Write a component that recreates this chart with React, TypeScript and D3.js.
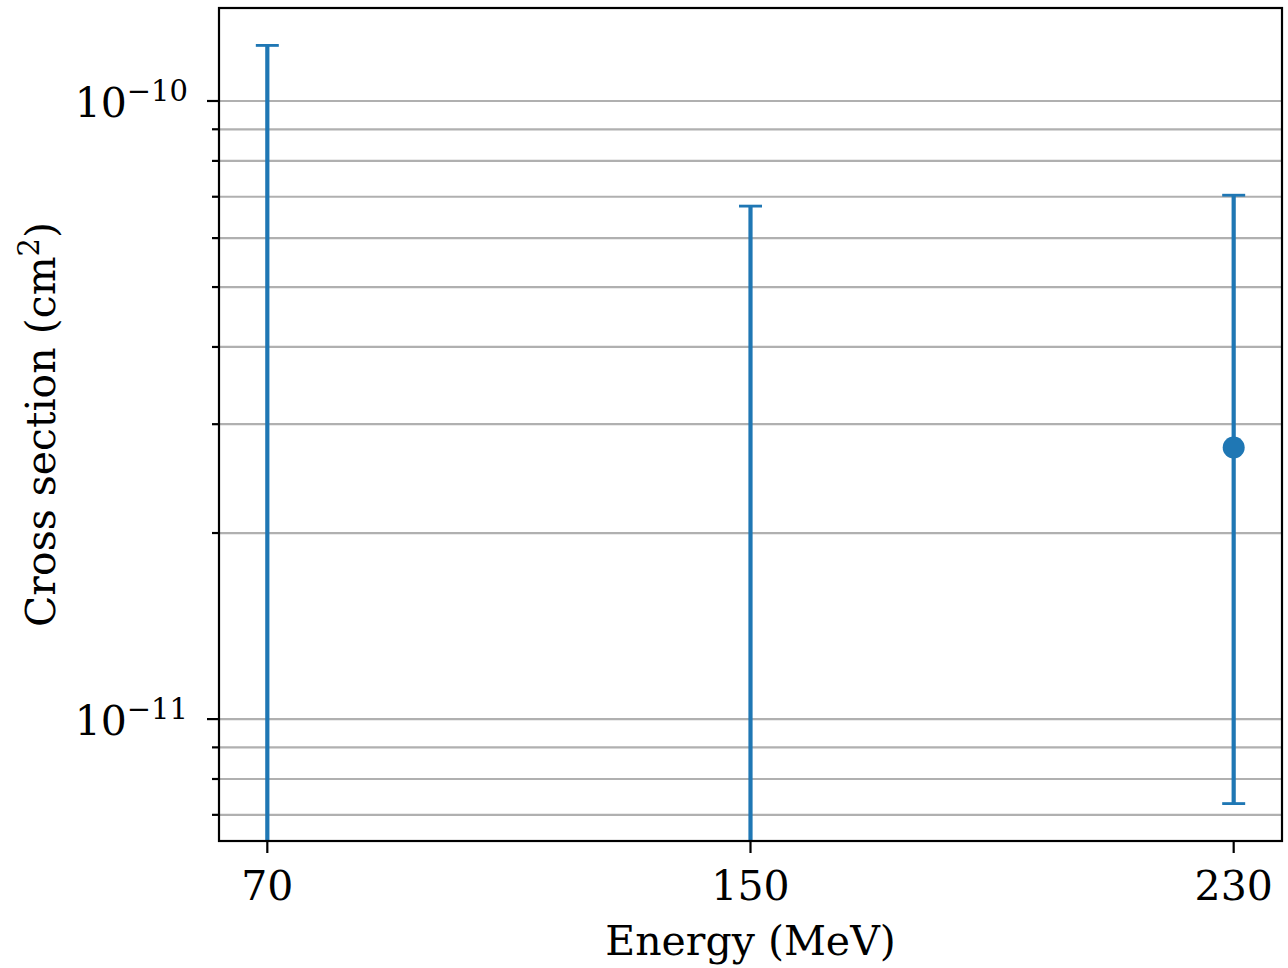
import React from "react";
import { scaleLinear, scaleLog } from "d3";

// measured cross sections, cm^2 (null = central value not on the log axis)
const energies = [70, 150, 230];
const centers: (number | null)[] = [null, null, 2.75e-11];
const upperBounds = [1.23e-10, 6.76e-11, 7.04e-11];
const lowerBounds = [0, 0, 7.3e-12]; // 0 -> bar runs off the bottom of the axis

const xTicks = [70, 150, 230];
const yMajor = [1e-10, 1e-11];
const yMajorLabels = ["−10", "−11"];
const yMinor = [
  9e-11, 8e-11, 7e-11, 6e-11, 5e-11, 4e-11, 3e-11, 2e-11, 9e-12, 8e-12, 7e-12,
];

const width = 1288,
  height = 968;
const margin = { left: 219, right: 6, top: 8, bottom: 127 };
const font = "DejaVu Serif";
const blue = "#1f77b4";

function App() {
  const x = scaleLinear()
    .domain([62, 238])
    .range([margin.left, width - margin.right]);
  const y = scaleLog()
    .domain([6.35e-12, 1.414e-10])
    .range([height - margin.bottom, margin.top]);
  const [x0, x1] = x.range();
  const [yb, yt] = y.range();

  return (
    <svg
      width={width}
      height={height}
      style={{ position: "absolute", left: 0, top: 0, background: "#fff" }}
      fontFamily={font}
    >
      <defs>
        <clipPath id="plot">
          <rect x={x0} y={yt} width={x1 - x0} height={yb - yt} />
        </clipPath>
      </defs>

      {/* grid, major + minor */}
      <g stroke="#b0b0b0" strokeWidth={2.2}>
        {[...yMajor, ...yMinor].map((v) => (
          <line key={v} x1={x0} x2={x1} y1={y(v)} y2={y(v)} />
        ))}
      </g>

      {/* error bars */}
      <g clipPath="url(#plot)" stroke={blue}>
        {energies.map((e, i) => {
          const cx = x(e);
          const top = y(upperBounds[i]);
          const bot = lowerBounds[i] > 0 ? y(lowerBounds[i]) : yb + 10;
          return (
            <g key={e}>
              <line x1={cx} x2={cx} y1={top} y2={bot} strokeWidth={4.2} />
              <line x1={cx - 11.5} x2={cx + 11.5} y1={top} y2={top} strokeWidth={2.8} />
              {lowerBounds[i] > 0 && (
                <line x1={cx - 11.5} x2={cx + 11.5} y1={bot} y2={bot} strokeWidth={2.8} />
              )}
              {centers[i] !== null && (
                <circle cx={cx} cy={y(centers[i] as number)} r={11} fill={blue} stroke="none" />
              )}
            </g>
          );
        })}
      </g>

      {/* frame */}
      <rect
        x={x0}
        y={yt}
        width={x1 - x0}
        height={yb - yt}
        fill="none"
        stroke="#000"
        strokeWidth={2.2}
      />

      {/* x axis */}
      {xTicks.map((t) => (
        <g key={t}>
          <line x1={x(t)} x2={x(t)} y1={yb} y2={yb + 12} stroke="#000" strokeWidth={2.2} />
          <text x={x(t)} y={yb + 59} textAnchor="middle" fontSize={41}>
            {t}
          </text>
        </g>
      ))}
      <text x={(x0 + x1) / 2} y={955} textAnchor="middle" fontSize={41}>
        Energy (MeV)
      </text>

      {/* y axis */}
      {yMinor.map((v) => (
        <line key={v} x1={x0 - 7} x2={x0} y1={y(v)} y2={y(v)} stroke="#000" strokeWidth={2.2} />
      ))}
      {yMajor.map((v, i) => (
        <g key={v}>
          <line x1={x0 - 12} x2={x0} y1={y(v)} y2={y(v)} stroke="#000" strokeWidth={2.2} />
          <text x={188} y={y(v) + 16} textAnchor="end" fontSize={41}>
            <tspan>10</tspan>
            <tspan dy={-16} fontSize={29}>
              {yMajorLabels[i]}
            </tspan>
          </text>
        </g>
      ))}
      <text
        transform={`translate(55,${(yt + yb) / 2}) rotate(-90)`}
        textAnchor="middle"
        fontSize={41}
      >
        Cross section (cm
        <tspan dy={-16} fontSize={29}>
          2
        </tspan>
        <tspan dy={16}>)</tspan>
      </text>
    </svg>
  );
}

export default App;
